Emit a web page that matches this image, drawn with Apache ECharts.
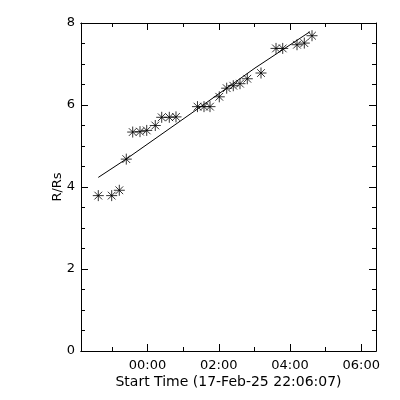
<!DOCTYPE html>
<html><head><meta charset="utf-8">
<script src="https://cdn.jsdelivr.net/npm/echarts@6/dist/echarts.min.js"></script>
<style>html,body{margin:0;padding:0;background:#fff}#c{width:400px;height:400px}</style>
</head><body><div id="c"></div>
<script>
// Time in hours relative to 00:00 (18-Feb-25); start time 17-Feb-25 22:06:07
const timeHours = [-1.381, -1.005, -0.791, -0.595, -0.415, -0.210, -0.022, 0.219, 0.399, 0.612,
  0.800, 1.403, 1.586, 1.754, 2.015, 2.223, 2.408, 2.596, 2.801, 3.186,
  3.607, 3.795, 4.196, 4.401, 4.617];
const radius = [3.79, 3.79, 3.92, 4.68, 5.34, 5.35, 5.38, 5.50, 5.70, 5.70,
  5.71, 5.96, 5.96, 5.96, 6.20, 6.41, 6.47, 6.52, 6.64, 6.78,
  7.38, 7.38, 7.47, 7.51, 7.69];
const fitHours = [-1.381, -0.603, 1.474, 3.017, 4.561];
const fitRadius = [4.234, 4.678, 5.946, 6.902, 7.788];
const xTickValues = [0, 2, 4, 6];
const xTickLabels = ['00:00', '02:00', '04:00', '06:00'];
const xMinorTickValues = [-1, 1, 3, 5];
const X_MIN = -1.866, X_MAX = 6.413;
const xTitle = 'Start Time (17-Feb-25 22:06:07)';
const yTitle = 'R/Rs';

const black = '#000';
const font = 'DejaVu Sans';
const line = {color: black, width: 1};

function xAxisDef(grid, pos, ticks, len, labels, name) {
  return {
    type: 'value', gridIndex: grid, position: pos, min: X_MIN, max: X_MAX,
    axisLine: {show: true, onZero: false, lineStyle: line},
    axisTick: {show: true, inside: true, length: len, customValues: ticks, lineStyle: line},
    axisLabel: labels ? {
      show: true, customValues: ticks, color: black, fontFamily: font, fontSize: 13, margin: 8,
      formatter: v => xTickLabels[xTickValues.indexOf(Math.round(v))] || ''
    } : {show: false},
    splitLine: {show: false},
    name: name || '', nameLocation: 'middle', nameGap: 24, nameMoveOverlap: false,
    nameTextStyle: {color: black, fontFamily: font, fontSize: 14}
  };
}
function yAxisDef(grid, pos, show, labels, name) {
  return {
    type: 'value', gridIndex: grid, position: pos, min: 0, max: 8, interval: 2, show: show,
    axisLine: {show: true, onZero: false, lineStyle: line},
    axisTick: {show: true, inside: true, length: 7, lineStyle: line},
    minorTick: {show: true, splitNumber: 4, length: 4, lineStyle: line},
    axisLabel: labels ? {show: true, color: black, fontFamily: font, fontSize: 13, margin: 6} : {show: false},
    splitLine: {show: false},
    name: name || '', nameLocation: 'middle', nameGap: 17, nameMoveOverlap: false,
    nameTextStyle: {color: black, fontFamily: font, fontSize: 13}
  };
}

const chart = echarts.init(document.getElementById('c'), null, {renderer: 'canvas'});
const gridBox = {left: 81, right: 24, top: 23, bottom: 49, containLabel: false};
chart.setOption({
  animation: false,
  backgroundColor: '#fff',
  grid: [Object.assign({}, gridBox), Object.assign({}, gridBox)],
  xAxis: [
    xAxisDef(0, 'bottom', xTickValues, 7, true, xTitle),
    xAxisDef(0, 'top', xTickValues, 7, false),
    xAxisDef(1, 'bottom', xMinorTickValues, 4, false),
    xAxisDef(1, 'top', xMinorTickValues, 4, false)
  ],
  yAxis: [
    yAxisDef(0, 'left', true, true, yTitle),
    yAxisDef(0, 'right', true, false),
    yAxisDef(1, 'left', false, false)
  ],
  series: [
    {
      type: 'line', xAxisIndex: 0, yAxisIndex: 0,
      data: fitHours.map((x, i) => [x, fitRadius[i]]),
      showSymbol: false, symbol: 'none', lineStyle: {color: black, width: 1}, silent: true
    },
    {
      type: 'scatter', xAxisIndex: 0, yAxisIndex: 0,
      data: timeHours.map((x, i) => [x, radius[i]]),
      symbol: 'path://M5 0L5 10M0 5L10 5M1.5 1.5L8.5 8.5M8.5 1.5L1.5 8.5',
      symbolSize: 11,
      itemStyle: {color: 'none', borderColor: black, borderWidth: 1}
    }
  ]
});
</script>
</body></html>
